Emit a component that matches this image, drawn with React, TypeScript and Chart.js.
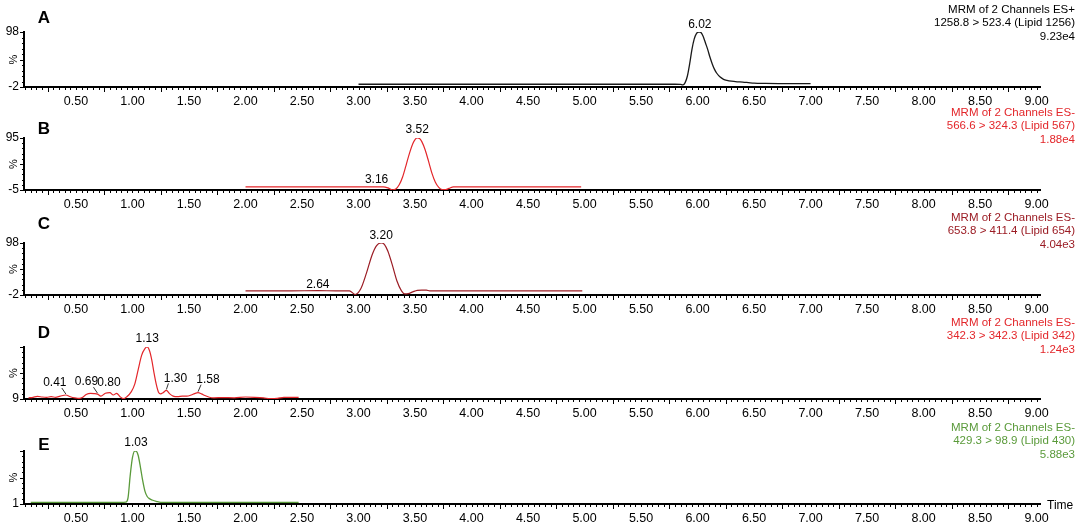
import React, { useEffect, useRef } from 'react';
import { Chart, registerables } from 'chart.js';

Chart.register(...registerables);

// ---------- axis ----------
const X_MIN = 0.04;
const X_MAX = 9.03;
const X_TICK_LABELS = [0.5, 1.0, 1.5, 2.0, 2.5, 3.0, 3.5, 4.0, 4.5, 5.0, 5.5, 6.0, 6.5, 7.0, 7.5, 8.0, 8.5, 9.0];

// ---------- panel texts ----------
const PANEL_LETTERS = ['A', 'B', 'C', 'D', 'E'];
const CHANNEL_TITLES = [
  'MRM of 2 Channels ES+',
  'MRM of 2 Channels ES-',
  'MRM of 2 Channels ES-',
  'MRM of 2 Channels ES-',
  'MRM of 2 Channels ES-',
];
const TRANSITIONS = [
  '1258.8 > 523.4 (Lipid 1256)',
  '566.6 > 324.3 (Lipid 567)',
  '653.8 > 411.4 (Lipid 654)',
  '342.3 > 342.3 (Lipid 342)',
  '429.3 > 98.9 (Lipid 430)',
];
const MAX_INTENSITIES = ['9.23e4', '1.88e4', '4.04e3', '1.24e3', '5.88e3'];
const Y_RANGES = [[-2, 98], [-5, 95], [-2, 98], [9, 100], [1, 100]];
const Y_TICK_LABELS = [[-2, 98], [-5, 95], [-2, 98], [9], [1]];

// ---------- series ----------
const A_TIME = [3.0, 3.5, 4.0, 4.5, 5.0, 5.5, 5.8, 5.85, 5.87, 5.89, 5.91, 5.93, 5.95, 5.97, 5.99, 6.01, 6.02, 6.03, 6.05, 6.07, 6.09, 6.11, 6.13, 6.15, 6.17, 6.2, 6.23, 6.26, 6.3, 6.35, 6.4, 6.45, 6.5, 6.6, 6.8, 7.0];
const A_INT = [3, 3, 3, 3, 3, 3, 3, 2.8, 2, 6, 18, 40, 66, 85, 95, 98, 98, 97, 90, 78, 66, 52, 40, 30, 23, 16, 12, 10, 8.5, 7.5, 7, 6, 5, 4.5, 4, 4];

const B_TIME = [2.0, 2.5, 3.0, 3.16, 3.22, 3.26, 3.3, 3.33, 3.36, 3.39, 3.42, 3.45, 3.48, 3.5, 3.52, 3.54, 3.56, 3.59, 3.62, 3.65, 3.68, 3.71, 3.74, 3.77, 3.8, 3.84, 4.0, 4.5, 4.97];
const B_INT = [1, 1, 1, 1.2, 1, -1, -4.5, -3, 5, 20, 42, 65, 84, 92, 95, 94, 88, 72, 50, 27, 10, 0, -4, -4, -2, 1, 1, 1, 1];

const C_TIME = [2.0, 2.4, 2.64, 2.8, 2.92, 2.97, 3.02, 3.07, 3.12, 3.16, 3.2, 3.23, 3.26, 3.3, 3.34, 3.38, 3.41, 3.44, 3.48, 3.52, 3.56, 3.6, 3.63, 4.0, 4.5, 4.98];
const C_INT = [6, 6, 6.3, 6, 6, -1, 10, 40, 75, 93, 98, 95, 82, 55, 25, 6, 0, 0.5, 4, 7, 7.5, 7.5, 6, 6, 6, 6];

const D_TIME = [0.08, 0.12, 0.16, 0.2, 0.24, 0.28, 0.32, 0.36, 0.41, 0.45, 0.49, 0.53, 0.56, 0.59, 0.63, 0.66, 0.69, 0.72, 0.76, 0.8, 0.83, 0.86, 0.89, 0.92, 0.95, 0.99, 1.02, 1.05, 1.08, 1.11, 1.13, 1.15, 1.17, 1.19, 1.21, 1.23, 1.25, 1.27, 1.3, 1.33, 1.36, 1.4, 1.44, 1.48, 1.52, 1.55, 1.58, 1.61, 1.64, 1.68, 1.72, 1.8, 1.9, 2.0, 2.08, 2.16, 2.22, 2.28, 2.34, 2.4, 2.47];
const D_INT = [11, 12, 13.5, 12.5, 12, 13, 12, 14, 16, 13, 11, 10, 12, 17, 19, 18.5, 17.5, 14, 19, 20, 16, 19, 13, 9.5, 13, 22, 35, 60, 85, 97, 100, 94, 78, 55, 35, 21, 18, 20, 24, 18, 14, 13, 14, 14, 16, 18.5, 20, 18, 15, 12, 11, 11.5, 11, 12.5, 12, 11, 9.5, 10, 12, 12, 12];

const E_TIME = [0.1, 0.3, 0.5, 0.7, 0.9, 0.94, 0.96, 0.98, 1.0, 1.02, 1.03, 1.05, 1.07, 1.09, 1.11, 1.13, 1.15, 1.18, 1.21, 1.25, 1.4, 1.7, 2.0, 2.47];
const E_INT = [4, 4, 4, 4, 4, 4.5, 12, 55, 88, 100, 100, 92, 70, 45, 25, 15, 11, 8, 6, 4, 4, 4, 4, 4];

// labelled peaks (retention times)
const A_PEAKS = [6.02];
const B_PEAKS = [3.16, 3.52];
const C_PEAKS = [2.64, 3.2];
const D_PEAKS = [0.41, 0.69, 0.8, 1.13, 1.3, 1.58];
const E_PEAKS = [1.03];

// ---------- styles / layout ----------
const FONT = '"Liberation Sans", Arial, Helvetica, sans-serif';
const COLORS = ['#1a1a1a', '#e3262a', '#9b1c24', '#e3262a', '#5a9a3a'];
const LINE_WIDTHS = [1.3, 1.2, 1.2, 1.2, 1.3];
const CANVAS_W = 1084;
const PANEL_LAYOUT = [
  { top: 0, height: 105, plotTop: 32, axisY: 87, letterY: 18, textY: 10 },
  { top: 105, height: 105, plotTop: 33, axisY: 85, letterY: 24, textY: 8 },
  { top: 210, height: 105, plotTop: 33, axisY: 85, letterY: 14, textY: 8 },
  { top: 315, height: 105, plotTop: 32, axisY: 84, letterY: 18, textY: 8 },
  { top: 420, height: 106, plotTop: 31, axisY: 84, letterY: 25, textY: 8 },
];
// label offsets (px) relative to the peak apex: [dx, dy, leader]
const PEAK_LABEL_OFFSETS = [
  [[0, -7, 0]],
  [[0, -7, 0], [0, -8, 0]],
  [[0, -6, 0], [0, -7, 0]],
  [[-11, -12, 1], [-11, -12, 1], [-1, -10, 0], [0, -8, 0], [9, -12, 1], [10, -13, 1]],
  [[0, -8, 0]],
];

const SERIES = [
  { t: A_TIME, v: A_INT, peaks: A_PEAKS },
  { t: B_TIME, v: B_INT, peaks: B_PEAKS },
  { t: C_TIME, v: C_INT, peaks: C_PEAKS },
  { t: D_TIME, v: D_INT, peaks: D_PEAKS },
  { t: E_TIME, v: E_INT, peaks: E_PEAKS },
];

function makeDecor(i: number) {
  const lay = PANEL_LAYOUT[i];
  const color = COLORS[i];
  const s = SERIES[i];
  return {
    id: 'decor' + i,
    afterDraw(chart: any) {
      const ctx = chart.ctx as CanvasRenderingContext2D;
      const xs = chart.scales.x;
      const ys = chart.scales.y;
      const area = chart.chartArea;
      ctx.save();
      ctx.strokeStyle = '#000';
      ctx.lineWidth = 1;
      // x minor ticks
      for (let k = 1; k <= 190; k++) {
        const v = k * 0.05;
        if (v < X_MIN || v > X_MAX) continue;
        const q = Math.round(v * 100);
        const len = q % 50 === 25 ? 5 : 3;
        const px = Math.round(xs.getPixelForValue(v)) + 0.5;
        ctx.beginPath();
        ctx.moveTo(px, area.bottom);
        ctx.lineTo(px, area.bottom + len);
        ctx.stroke();
      }
      // y ticks
      const [ymin, ymax] = Y_RANGES[i];
      for (let k = 0; k <= 10; k++) {
        const v = ymin + (k * (ymax - ymin)) / 10;
        const py = Math.round(ys.getPixelForValue(v)) + 0.5;
        const len = k % 5 === 0 ? 4 : 2;
        ctx.beginPath();
        ctx.moveTo(area.left - len, py);
        ctx.lineTo(area.left, py);
        ctx.stroke();
      }
      // % label
      ctx.fillStyle = '#000';
      ctx.font = `11px ${FONT}`;
      ctx.textAlign = 'center';
      ctx.textBaseline = 'middle';
      ctx.save();
      ctx.translate(14, (area.top + area.bottom) / 2);
      ctx.rotate(-Math.PI / 2);
      ctx.fillText('%', 0, 0);
      ctx.restore();
      // panel letter
      ctx.font = `bold 17px ${FONT}`;
      ctx.fillText(PANEL_LETTERS[i], 44, lay.letterY);
      // channel info
      ctx.fillStyle = color === '#1a1a1a' ? '#000' : color;
      ctx.font = `11.5px ${FONT}`;
      ctx.textAlign = 'right';
      [CHANNEL_TITLES[i], TRANSITIONS[i], MAX_INTENSITIES[i]].forEach((line, j) => {
        ctx.fillText(line, 1075, lay.textY + j * 13.3);
      });
      // peak labels
      ctx.fillStyle = '#000';
      ctx.textAlign = 'center';
      ctx.font = `12px ${FONT}`;
      s.peaks.forEach((pt, j) => {
        let idx = 0;
        let best = Infinity;
        s.t.forEach((tt, m) => {
          const d = Math.abs(tt - pt);
          if (d < best) { best = d; idx = m; }
        });
        const px = xs.getPixelForValue(pt);
        const py = ys.getPixelForValue(s.v[idx]);
        const [dx, dy, leader] = PEAK_LABEL_OFFSETS[i][j];
        const lx = px + dx;
        const ly = py + dy;
        ctx.fillText(pt.toFixed(2), lx, ly);
        if (leader) {
          ctx.beginPath();
          ctx.strokeStyle = '#000';
          ctx.lineWidth = 0.8;
          const sx = dx < 0 ? lx + 7 : lx - 7;
          ctx.moveTo(sx, ly + 5);
          ctx.lineTo(px, py - 1);
          ctx.stroke();
        }
      });
      if (i === 4) {
        ctx.textAlign = 'left';
        ctx.font = `12px ${FONT}`;
        ctx.fillText('Time', area.right + 7, area.bottom + 2);
      }
      ctx.restore();
    },
  };
}

function makeConfig(i: number): any {
  const lay = PANEL_LAYOUT[i];
  const s = SERIES[i];
  const [ymin, ymax] = Y_RANGES[i];
  return {
    type: 'line',
    data: {
      datasets: [
        {
          data: s.t.map((t, k) => ({ x: t, y: s.v[k] })),
          borderColor: COLORS[i],
          borderWidth: LINE_WIDTHS[i],
          pointRadius: 0,
          cubicInterpolationMode: 'monotone',
          fill: false,
        },
      ],
    },
    options: {
      animation: false,
      responsive: false,
      maintainAspectRatio: false,
      events: [],
      layout: { padding: { top: lay.plotTop, right: CANVAS_W - 1040, left: 0, bottom: 0 } },
      plugins: { legend: { display: false }, tooltip: { enabled: false } },
      scales: {
        x: {
          type: 'linear',
          min: X_MIN,
          max: X_MAX,
          grid: { display: false, drawTicks: false },
          border: { display: true, color: '#000', width: 2 },
          afterBuildTicks: (sc: any) => {
            sc.ticks = X_TICK_LABELS.map((v) => ({ value: v }));
          },
          afterFit: (sc: any) => {
            sc.height = lay.height - lay.axisY;
          },
          ticks: {
            autoSkip: false,
            maxRotation: 0,
            minRotation: 0,
            padding: 7,
            color: '#000',
            font: { family: FONT, size: 12.5 },
            callback: (v: any) => Number(v).toFixed(2),
          },
        },
        y: {
          type: 'linear',
          min: ymin,
          max: ymax,
          grid: { display: false, drawTicks: false },
          border: { display: true, color: '#000', width: 2 },
          afterBuildTicks: (sc: any) => {
            sc.ticks = Y_TICK_LABELS[i].map((v) => ({ value: v }));
          },
          afterFit: (sc: any) => {
            sc.width = 24;
          },
          ticks: {
            autoSkip: false,
            padding: 5,
            color: '#000',
            font: { family: FONT, size: 12 },
            callback: (v: any) => String(v),
          },
        },
      },
    },
    plugins: [makeDecor(i)],
  };
}

export default function App() {
  const refs = useRef<(HTMLCanvasElement | null)[]>([]);
  useEffect(() => {
    const charts = PANEL_LAYOUT.map((_, i) => new Chart(refs.current[i] as HTMLCanvasElement, makeConfig(i)));
    return () => charts.forEach((c) => c.destroy());
  }, []);
  return (
    <div style={{ position: 'fixed', left: 0, top: 0, width: CANVAS_W, height: 526, background: '#fff' }}>
      {PANEL_LAYOUT.map((lay, i) => (
        <canvas
          key={i}
          ref={(el) => { refs.current[i] = el; }}
          width={CANVAS_W}
          height={lay.height}
          style={{ position: 'absolute', left: 0, top: lay.top, width: CANVAS_W, height: lay.height }}
        />
      ))}
    </div>
  );
}
